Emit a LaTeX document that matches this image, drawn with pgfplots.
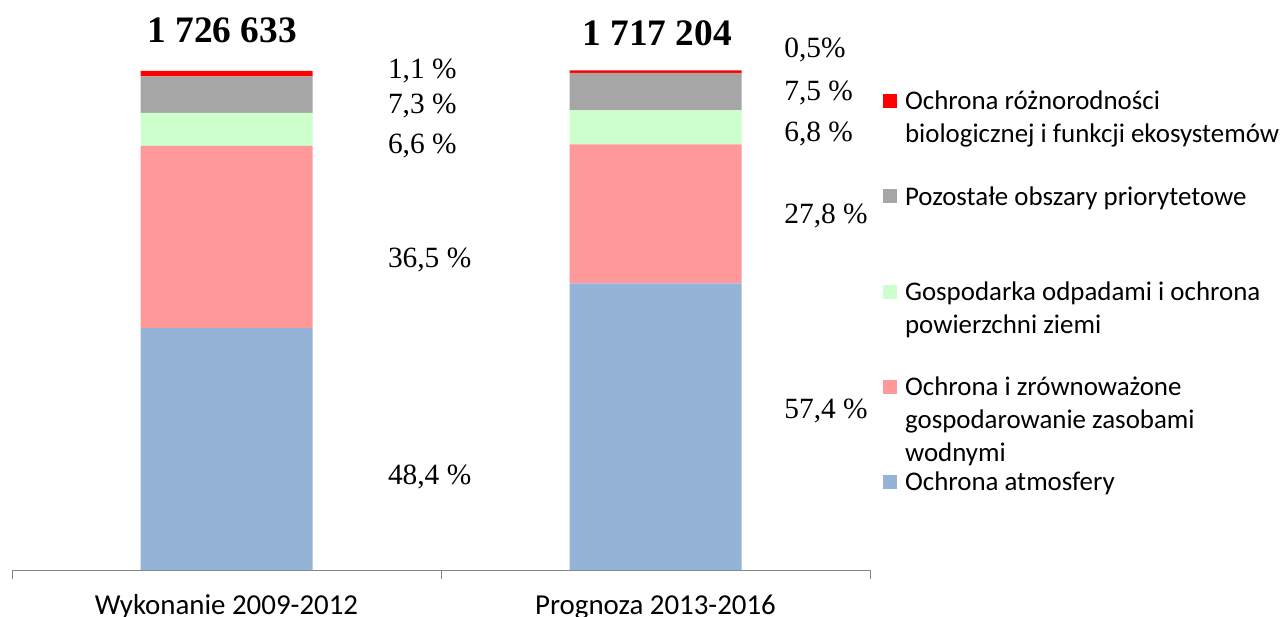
\documentclass[border=0pt]{standalone}
\usepackage{pgfplots}
\pgfplotsset{compat=1.18}
\usepackage{fontspec}
\setmainfont{Carlito}
\newfontfamily\timesf{Liberation Serif}
\definecolor{cblue}{RGB}{149,179,215}
\definecolor{cpink}{RGB}{255,153,153}
\definecolor{cgreen}{RGB}{204,255,204}
\definecolor{cgray}{RGB}{166,166,166}
\definecolor{cred}{RGB}{255,0,0}
\definecolor{axgray}{RGB}{134,134,134}
\tikzset{pct/.style={font=\timesf\fontsize{29.5}{32}\selectfont, anchor=west, inner sep=0pt, yshift=-2.5bp},
  tot/.style={font=\timesf\bfseries\fontsize{37.5}{40}\selectfont}}
\newcommand{\lentry}[1]{\parbox[t]{380bp}{#1}}
\begin{document}
\begin{tikzpicture}
\useasboundingbox (-12bp,-47bp) rectangle (1269bp,570bp);
\begin{axis}[
  at={(0,0)}, anchor=south west,
  width=858bp, height=499.5bp, scale only axis,
  xmin=-0.5, xmax=1.5, ymin=0, ymax=100,
  ybar stacked, bar width=172bp,
  axis x line=bottom, axis y line=none,
  x axis line style={color=axgray,-},
  xtick={0,1}, xticklabels={Wykonanie 2009-2012, Prognoza 2013-2016},
  major tick length=0pt,
  minor xtick={-0.5,0.5,1.5}, minor tick length=9bp,
  tick align=outside,
  tick style={color=axgray},
  xticklabel style={font=\fontsize{29}{33}\selectfont, yshift=-21bp},
  clip=false,
  reverse legend,
  legend cell align=left,
  legend image code/.code={\fill[#1] (0bp,-7bp) rectangle (14bp,7bp);},
  legend style={at={(1.015,0.963)}, anchor=north west, draw=none, fill=none,
    inner sep=0pt, column sep=6bp, row sep=71bp,
    font=\fontsize{27}{33}\selectfont},
]
\addplot[fill=cblue, draw=none] coordinates {(0,48.4) (1,57.4)};
\addlegendentry{\lentry{Ochrona atmosfery}}
\addplot[fill=cpink, draw=none] coordinates {(0,36.5) (1,27.8)};
\addlegendentry{\lentry{Ochrona i zrównoważone\\gospodarowanie zasobami\\wodnymi}}
\addplot[fill=cgreen, draw=none] coordinates {(0,6.6) (1,6.8)};
\addlegendentry{\lentry{Gospodarka odpadami i ochrona\\powierzchni ziemi}}
\addplot[fill=cgray, draw=none] coordinates {(0,7.3) (1,7.5)};
\addlegendentry{\lentry{Pozostałe obszary priorytetowe}}
\addplot[fill=cred, draw=none] coordinates {(0,1.1) (1,0.5)};
\addlegendentry{\lentry{Ochrona różnorodności\\biologicznej i funkcji ekosystemów}}
\node[pct] at (axis cs:0.376,100.5) {1,1 \%};
\node[pct] at (axis cs:0.376,93.3) {7,3 \%};
\node[pct] at (axis cs:0.376,85.3) {6,6 \%};
\node[pct] at (axis cs:0.376,62.5) {36,5 \%};
\node[pct] at (axis cs:0.376,19.2) {48,4 \%};
\node[pct] at (axis cs:1.30,104.7) {0,5\%};
\node[pct] at (axis cs:1.30,95.9) {7,5 \%};
\node[pct] at (axis cs:1.30,87.7) {6,8 \%};
\node[pct] at (axis cs:1.30,71.3) {27,8 \%};
\node[pct] at (axis cs:1.30,32.4) {57,4 \%};
\node[tot] at (axis cs:-0.01,108.1) {1 726 633};
\node[tot] at (axis cs:1.004,107.5) {1 717 204};
\end{axis}
\end{tikzpicture}
\end{document}
